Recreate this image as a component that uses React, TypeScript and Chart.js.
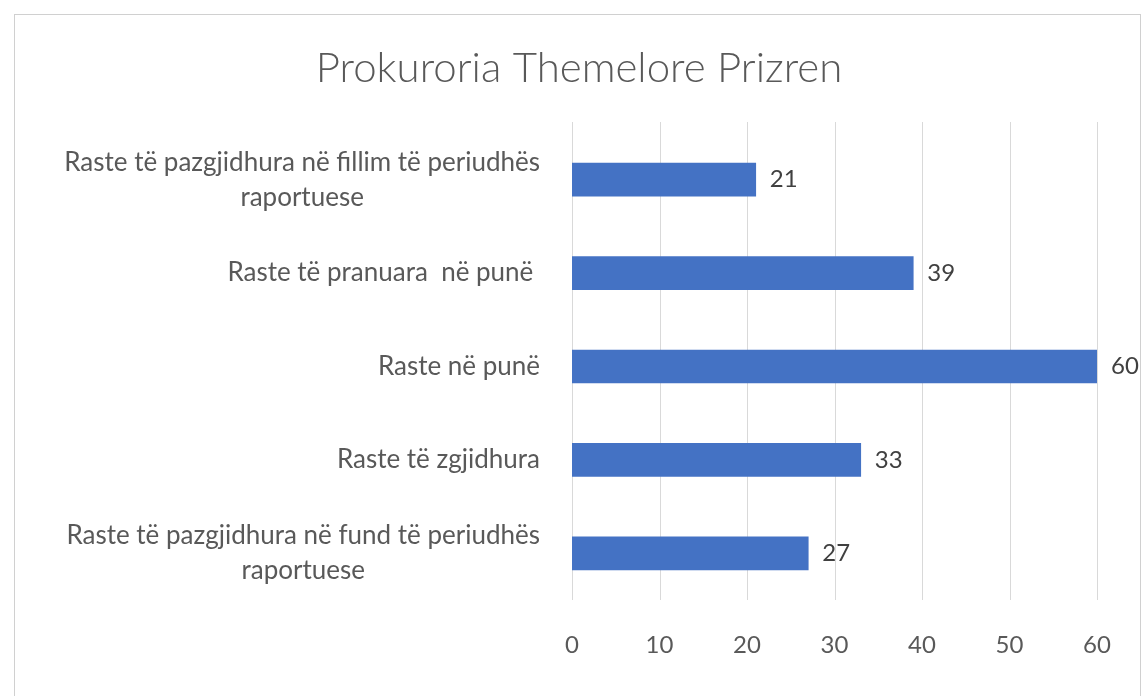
import React, { useEffect, useRef } from 'react';
import { Chart, registerables } from 'chart.js';

Chart.register(...registerables);

const chartTitle = 'Prokuroria Themelore Prizren';
const categories: string[][] = [
  ['Raste të pazgjidhura në fillim të periudhës', 'raportuese'],
  ['Raste të pranuara  në punë '],
  ['Raste në punë'],
  ['Raste të zgjidhura'],
  ['Raste të pazgjidhura në fund të periudhës', 'raportuese'],
];
const values: number[] = [21, 39, 60, 33, 27];
const xMin = 0;
const xMax = 60;
const xStep = 10;

const FONT = 'Lato, "Open Sans", sans-serif';
const LABEL_SIZE = 26;
const TICK_SIZE = 24;
const TEXT_COLOR = '#595959';
const BAR_COLOR = '#4472C4';
const GRID_COLOR = '#d9d9d9';

const framePlugin = {
  id: 'frame',
  beforeDraw(chart: any) {
    const { ctx, width, height } = chart;
    ctx.save();
    ctx.fillStyle = '#ffffff';
    ctx.fillRect(0, 0, width, height);
    ctx.strokeStyle = '#d0d0d0';
    ctx.lineWidth = 1;
    ctx.strokeRect(14.5, 14.5, 1126, height + 20);
    // title
    ctx.font = `300 42px ${FONT}`;
    ctx.fillStyle = TEXT_COLOR;
    ctx.textAlign = 'center';
    ctx.textBaseline = 'middle';
    ctx.fillText(chartTitle, 579, 68);
    ctx.restore();
  },
};

const gridPlugin = {
  id: 'xGrid',
  beforeDatasetsDraw(chart: any) {
    const { ctx, chartArea } = chart;
    const xs = chart.scales.x;
    ctx.save();
    ctx.strokeStyle = GRID_COLOR;
    ctx.lineWidth = 1;
    xs.ticks.forEach((t: any) => {
      const px = Math.round(xs.getPixelForValue(t.value)) + 0.5;
      ctx.beginPath();
      ctx.moveTo(px, 122);
      ctx.lineTo(px, chartArea.bottom);
      ctx.stroke();
    });
    ctx.restore();
  },
};

const yLabelPlugin = {
  id: 'yLabels',
  afterDraw(chart: any) {
    const { ctx } = chart;
    const yScale = chart.scales.y;
    ctx.save();
    ctx.font = `${LABEL_SIZE}px ${FONT}`;
    ctx.fillStyle = TEXT_COLOR;
    ctx.textBaseline = 'middle';
    ctx.textAlign = 'center';
    const right = chart.chartArea.left - 32;
    const lh = 35;
    (chart.data.labels as any[]).forEach((lab, i) => {
      const lines: string[] = Array.isArray(lab) ? lab : [String(lab)];
      const w = Math.max(...lines.map((l) => ctx.measureText(l).width));
      const cx = right - w / 2;
      const cy = yScale.getPixelForValue(i);
      lines.forEach((l, j) => {
        ctx.fillText(l, cx, cy + (j - (lines.length - 1) / 2) * lh);
      });
    });
    ctx.restore();
  },
};

const valueLabelPlugin = {
  id: 'valueLabels',
  afterDatasetsDraw(chart: any) {
    const { ctx } = chart;
    const meta = chart.getDatasetMeta(0);
    const data = chart.data.datasets[0].data as number[];
    ctx.save();
    ctx.font = `${TICK_SIZE}px ${FONT}`;
    ctx.fillStyle = '#404040';
    ctx.textBaseline = 'middle';
    ctx.textAlign = 'left';
    meta.data.forEach((el: any, i: number) => {
      ctx.fillText(String(data[i]), el.x + 14, el.y);
    });
    ctx.restore();
  },
};

export default function App() {
  const canvasRef = useRef<HTMLCanvasElement | null>(null);

  useEffect(() => {
    if (!canvasRef.current) return;
    const chart = new Chart(canvasRef.current, {
      type: 'bar',
      data: {
        labels: categories as any,
        datasets: [
          {
            data: values,
            backgroundColor: BAR_COLOR,
            borderWidth: 0,
            barThickness: 33,
          },
        ],
      },
      plugins: [framePlugin, gridPlugin, yLabelPlugin, valueLabelPlugin],
      options: {
        indexAxis: 'y',
        animation: false,
        responsive: false,
        maintainAspectRatio: false,
        layout: { padding: { top: 133, right: 49, bottom: 0, left: 0 } },
        plugins: {
          legend: { display: false },
          tooltip: { enabled: false },
          title: { display: false },
        },
        scales: {
          x: {
            min: xMin,
            max: xMax,
            ticks: {
              stepSize: xStep,
              color: TEXT_COLOR,
              font: { family: FONT, size: TICK_SIZE },
              padding: 31,
            },
            grid: { display: false, drawTicks: false },
            border: { display: false },
            afterFit: (scale: any) => {
              scale.height = 96;
            },
          },
          y: {
            ticks: { display: false },
            grid: { display: false },
            border: { display: false },
            afterFit: (scale: any) => {
              scale.width = 572;
            },
          },
        },
      },
    });
    return () => chart.destroy();
  }, []);

  return (
    <div style={{ position: 'fixed', left: 0, top: 0, width: 1146, height: 696, background: '#fff' }}>
      <canvas ref={canvasRef} width={1146} height={696} style={{ width: 1146, height: 696 }} />
    </div>
  );
}
